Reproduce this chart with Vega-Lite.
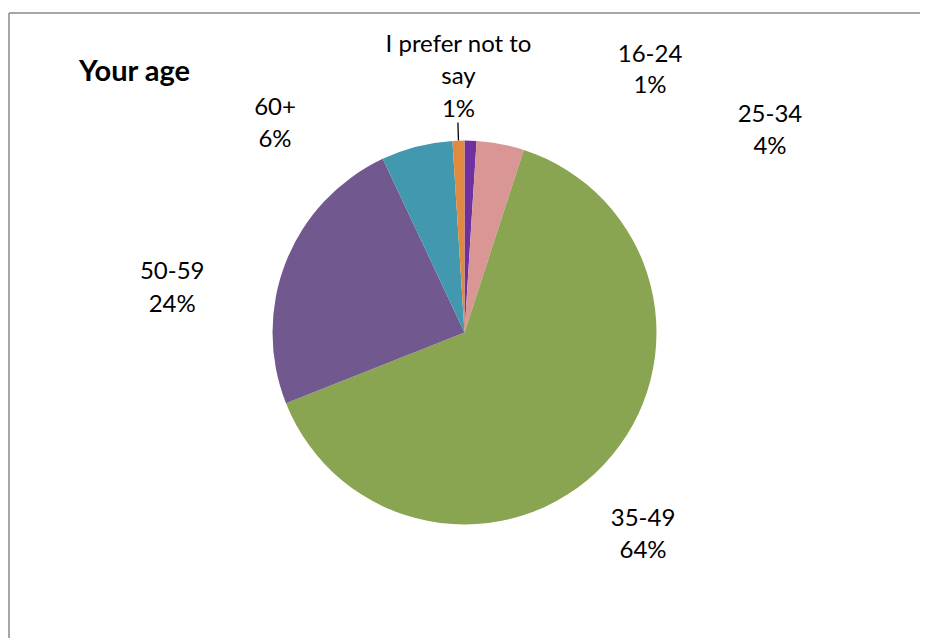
{
  "$schema": "https://vega.github.io/schema/vega-lite/v6.json",
  "width": 911,
  "height": 639,
  "autosize": {"type": "none"},
  "padding": {"left": 9, "top": 13, "right": 0, "bottom": -14},
  "background": "white",
  "view": {"stroke": "#8a8a8a", "strokeWidth": 1.5, "strokeDash": [911, 1550, 639, 0]},
  "config": {
    "font": "Lato",
    "style": {"view": {"stroke": "#8a8a8a", "strokeWidth": 1.5, "strokeDash": [911, 1550, 639, 0]}},
    "text": {"font": "Lato", "fontSize": 24, "color": "#000000", "align": "center", "baseline": "alphabetic", "radius": 215, "lineHeight": 32}
  },
  "title": {"text": "Your age", "anchor": "start", "frame": "group", "orient": "top", "offset": 0, "dx": 70, "dy": 97, "baseline": "alphabetic", "font": "Lato", "fontSize": 29, "fontWeight": "bold", "color": "#000000"},
  "data": {
    "values": [
      {"age": "16-24", "share": 0.01},
      {"age": "25-34", "share": 0.04},
      {"age": "35-49", "share": 0.64},
      {"age": "50-59", "share": 0.24},
      {"age": "60+", "share": 0.06},
      {"age": "I prefer not to say", "share": 0.01}
    ]
  },
  "encoding": {
    "theta": {"field": "share", "type": "quantitative", "stack": true},
    "order": {"field": "age", "type": "ordinal", "sort": "ascending"}
  },
  "layer": [
    {
      "mark": {"type": "arc", "radius": 192, "strokeWidth": 0},
      "encoding": {
        "color": {
          "field": "age", "type": "nominal", "legend": null,
          "scale": {
            "domain": ["16-24", "25-34", "35-49", "50-59", "60+", "I prefer not to say"],
            "range": ["#7030A0", "#D99694", "#8AA551", "#71588F", "#4198AF", "#DF8A3F"]
          }
        }
      }
    },
    {
      "mark": {"type": "arc", "radius": 210, "radius2": 192, "padAngle": 3, "stroke": "#000000", "strokeWidth": 1.3, "fillOpacity": 0},
      "encoding": {
        "strokeOpacity": {"condition": {"test": "datum.age === 'I prefer not to say'", "value": 1}, "value": 0}
      }
    },
    {
      "mark": {"type": "text", "dx": 178.75, "dy": -55.3},
      "encoding": {"text": {"condition": {"test": "datum.age === '16-24'", "field": "age", "type": "nominal"}, "value": ""}}
    },
    {
      "mark": {"type": "text", "dx": 178.75, "dy": -24.3},
      "encoding": {"text": {"condition": {"test": "datum.age === '16-24'", "field": "share", "type": "quantitative", "format": ".0%"}, "value": ""}}
    },
    {
      "mark": {"type": "text", "dx": 265.2, "dy": 1},
      "encoding": {"text": {"condition": {"test": "datum.age === '25-34'", "field": "age", "type": "nominal"}, "value": ""}}
    },
    {
      "mark": {"type": "text", "dx": 265.2, "dy": 32.7},
      "encoding": {"text": {"condition": {"test": "datum.age === '25-34'", "field": "share", "type": "quantitative", "format": ".0%"}, "value": ""}}
    },
    {
      "mark": {"type": "text", "dx": 21.8, "dy": 46.3},
      "encoding": {"text": {"condition": {"test": "datum.age === '35-49'", "field": "age", "type": "nominal"}, "value": ""}}
    },
    {
      "mark": {"type": "text", "dx": 21.8, "dy": 78.3},
      "encoding": {"text": {"condition": {"test": "datum.age === '35-49'", "field": "share", "type": "quantitative", "format": ".0%"}, "value": ""}}
    },
    {
      "mark": {"type": "text", "dx": -92.4, "dy": 25.6},
      "encoding": {"text": {"condition": {"test": "datum.age === '50-59'", "field": "age", "type": "nominal"}, "value": ""}}
    },
    {
      "mark": {"type": "text", "dx": -92.4, "dy": 58.3},
      "encoding": {"text": {"condition": {"test": "datum.age === '50-59'", "field": "share", "type": "quantitative", "format": ".0%"}, "value": ""}}
    },
    {
      "mark": {"type": "text", "dx": -136, "dy": -9.3},
      "encoding": {"text": {"condition": {"test": "datum.age === '60+'", "field": "age", "type": "nominal"}, "value": ""}}
    },
    {
      "mark": {"type": "text", "dx": -136, "dy": 22.7},
      "encoding": {"text": {"condition": {"test": "datum.age === '60+'", "field": "share", "type": "quantitative", "format": ".0%"}, "value": ""}}
    },
    {
      "mark": {"type": "text", "dx": 0.75, "dy": -65.6, "lineBreak": {"expr": "regexp(' (?=say)')"}},
      "encoding": {"text": {"condition": {"test": "datum.age === 'I prefer not to say'", "field": "age", "type": "nominal"}, "value": ""}}
    },
    {
      "mark": {"type": "text", "dx": 0.75, "dy": -0.6},
      "encoding": {"text": {"condition": {"test": "datum.age === 'I prefer not to say'", "field": "share", "type": "quantitative", "format": ".0%"}, "value": ""}}
    }
  ]
}
